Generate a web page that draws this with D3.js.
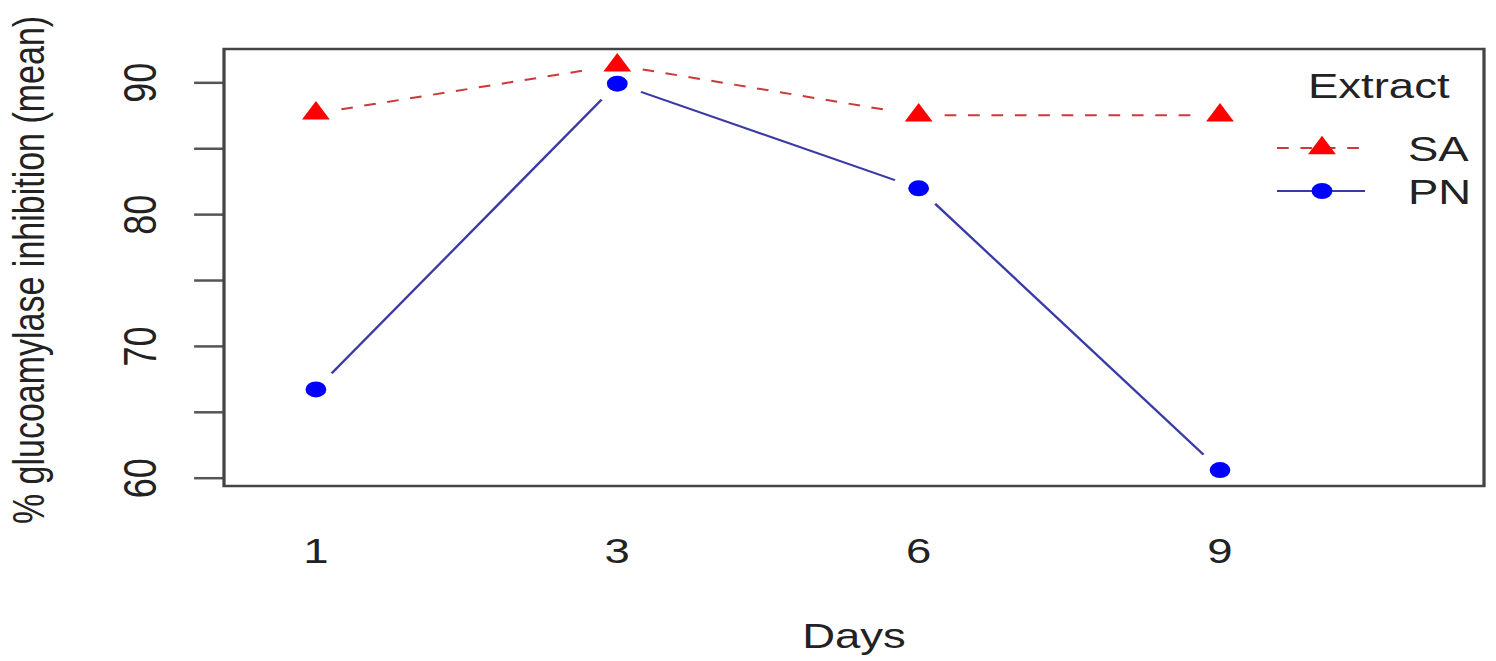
<!DOCTYPE html>
<html>
<head>
<meta charset="utf-8">
<script src="https://cdn.jsdelivr.net/npm/d3@7"></script>
<style>
  body { margin: 0; background: #fff; }
  text { font-family: "Liberation Sans", Arial, sans-serif; fill: #222; }
</style>
</head>
<body>
<svg id="chart"></svg>
<script>
// data
const days = ["1", "3", "6", "9"];
const saValues = [87.65, 91.3, 87.5, 87.5];
const pnValues = [66.7, 89.9, 81.96, 60.58];
const yTicks = [60, 65, 70, 75, 80, 85, 90];
const yLabelTicks = [60, 70, 80, 90];
const seriesNames = ["SA", "PN"];

// constants
const width = 1496;
const height = 661;
const stretch = 1.3; // the picture is stretched sideways, so draw in a narrow frame and widen it

const box = { left: 224 / stretch, right: 1484 / stretch, top: 49, bottom: 486 };

const svg = d3.select('svg#chart').attr('width', width).attr('height', height)
const g = svg.append('g').attr('transform', 'scale(' + stretch + ',1)')

const x = d3.scaleLinear().domain([0.695, 4.876]).range([box.left, box.right])
const y = d3.scaleLinear().domain([59.37, 92.53]).range([box.bottom, box.top])

// y axis with rotated labels
const yAxis = g.append('g')
  .attr('transform', 'translate(' + box.left + ',0)')
  .call(d3.axisLeft(y).tickValues(yTicks).tickSize(23).tickPadding(0)
    .tickFormat(d => yLabelTicks.includes(d) ? d : ''))
yAxis.select('.domain').remove()
yAxis.selectAll('line').attr('stroke', '#555').attr('stroke-width', 2.5)
yAxis.selectAll('text')
  .attr('transform', 'rotate(-90)')
  .attr('x', 0).attr('y', -52).attr('dy', 0)
  .attr('text-anchor', 'middle')
  .style('font-size', '36px')
  .style('font-family', '"Liberation Sans", Arial, sans-serif')
  .attr('fill', '#222')

// x labels (no tick marks)
g.selectAll('text.xlab').data(days).enter().append('text')
  .attr('class', 'xlab')
  .attr('x', (d, i) => x(i + 1))
  .attr('y', 563)
  .attr('text-anchor', 'middle')
  .style('font-size', '35px')
  .text(d => d)

// axis titles
g.append('text')
  .attr('x', (box.left + box.right) / 2).attr('y', 648)
  .attr('text-anchor', 'middle').style('font-size', '35px')
  .text('Days')
g.append('text')
  .attr('transform', 'translate(34,270) rotate(-90)')
  .attr('text-anchor', 'middle').style('font-size', '34px')
  .text('% glucoamylase inhibition (mean)')

// plot box
g.append('rect')
  .attr('x', box.left).attr('y', box.top)
  .attr('width', box.right - box.left).attr('height', box.bottom - box.top)
  .attr('fill', 'none').attr('stroke', '#444').attr('stroke-width', 2.5)

// lines with gaps around points (R type = "b")
const gap = 20;
function gappedSegments(values) {
  const pts = values.map((v, i) => [x(i + 1), y(v)])
  const segs = []
  for (let i = 0; i < pts.length - 1; i++) {
    const [x0, y0] = pts[i], [x1, y1] = pts[i + 1]
    const len = Math.hypot(x1 - x0, y1 - y0)
    const ux = (x1 - x0) / len, uy = (y1 - y0) / len
    segs.push([x0 + ux * gap, y0 + uy * gap, x1 - ux * gap, y1 - uy * gap])
  }
  return segs
}

g.selectAll('line.sa').data(gappedSegments(saValues)).enter().append('line')
  .attr('x1', d => d[0]).attr('y1', d => d[1]).attr('x2', d => d[2]).attr('y2', d => d[3])
  .attr('stroke', '#cc3a3a').attr('stroke-width', 2).attr('stroke-dasharray', '9,9')
g.selectAll('line.pn').data(gappedSegments(pnValues)).enter().append('line')
  .attr('x1', d => d[0]).attr('y1', d => d[1]).attr('x2', d => d[2]).attr('y2', d => d[3])
  .attr('stroke', '#3a3aa6').attr('stroke-width', 2)

const triangle = 'M0,-12.3L10.7,6.2L-10.7,6.2Z'

g.selectAll('path.sa').data(saValues).enter().append('path')
  .attr('d', triangle)
  .attr('transform', (d, i) => 'translate(' + x(i + 1) + ',' + y(d) + ')')
  .attr('fill', '#ff0000')
g.selectAll('circle.pn').data(pnValues).enter().append('circle')
  .attr('cx', (d, i) => x(i + 1)).attr('cy', d => y(d)).attr('r', 8)
  .attr('fill', '#0000ff')

// legend
const legX0 = 1277 / stretch, legX1 = 1365 / stretch, legSym = 1322 / stretch, legText = 1408 / stretch
const legRows = [148, 191]
g.append('text').attr('x', 1308 / stretch).attr('y', 98).style('font-size', '35px').text('Extract')

const leg = g.selectAll('g.leg').data(seriesNames).enter().append('g')
  .attr('transform', (d, i) => 'translate(0,' + legRows[i] + ')')
leg.append('line')
  .attr('x1', legX0).attr('x2', legX1).attr('y1', 0).attr('y2', 0)
  .attr('stroke', (d, i) => i === 0 ? '#cc3a3a' : '#3a3aa6').attr('stroke-width', 2)
  .attr('stroke-dasharray', (d, i) => i === 0 ? '9,9' : null)
leg.filter((d, i) => i === 0).append('path')
  .attr('d', triangle).attr('transform', 'translate(' + legSym + ',0)').attr('fill', '#ff0000')
leg.filter((d, i) => i === 1).append('circle')
  .attr('cx', legSym).attr('cy', 0).attr('r', 8).attr('fill', '#0000ff')
leg.append('text').attr('x', legText).attr('y', 12.5).style('font-size', '35px').text(d => d)
</script>
</body>
</html>
